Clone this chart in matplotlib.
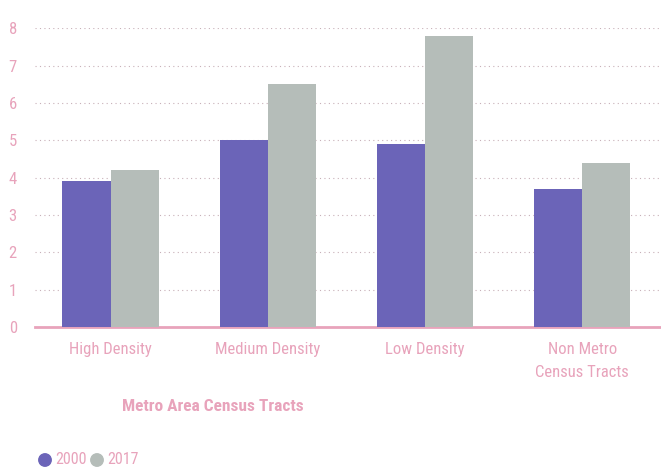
import matplotlib
matplotlib.use('Agg')
import matplotlib.pyplot as plt
from matplotlib import font_manager
import numpy as np

names = {f.name for f in font_manager.fontManager.ttflist}
fam = [n for n in ['DejaVu Sans Condensed', 'Liberation Sans Narrow', 'Roboto Condensed'] if n in names]
plt.rcParams['font.family'] = fam + ['DejaVu Sans']

categories = ['High Density', 'Medium Density', 'Low Density', 'Non Metro\nCensus Tracts']
values_2000 = [3.9, 5.0, 4.9, 3.7]
values_2017 = [4.2, 6.5, 7.8, 4.4]
series_names = ['2000', '2017']
yticks = [0, 1, 2, 3, 4, 5, 6, 7, 8]

pink = '#e8a3bb'
blue = '#6b64b8'
grey = '#b5bdb9'

fig = plt.figure(figsize=(6.61, 4.70), dpi=100)
ax = fig.add_axes([0.053, 0.304, 0.947, 0.636])

x = np.arange(len(categories))
w = 0.306
ax.bar(x - w / 2, values_2000, w, color=blue, zorder=3)
ax.bar(x + w / 2, values_2017, w, color=grey, zorder=3)

ax.set_xlim(-0.48, 3.5)
ax.set_ylim(0, 8)
ax.set_yticks(yticks)
ax.set_yticklabels([str(t) for t in yticks], color=pink, fontsize=12, ha='center')
ax.tick_params(axis='y', length=0, pad=16)
ax.set_xticks(x)
ax.set_xticklabels(categories, color=pink, fontsize=12, linespacing=1.6)
ax.tick_params(axis='x', length=0, pad=11)

ax.grid(axis='y', color='#c8b0b8', linestyle=(0, (1, 3)), linewidth=0.8, zorder=0)
for s in ['top', 'right', 'left']:
    ax.spines[s].set_visible(False)
ax.spines['bottom'].set_color(pink)
ax.spines['bottom'].set_linewidth(2)

fig.text(0.322, 0.136, 'Metro Area Census Tracts', color=pink, fontsize=12.5,
         fontweight='bold', ha='center', va='center')

# legend
lax = fig.add_axes([0, 0, 1, 1], facecolor='none')
lax.set_xlim(0, 661)
lax.set_ylim(470, 0)
lax.axis('off')
lax.scatter([45, 97], [460, 460], s=80, c=[blue, grey])
lax.text(55, 460, series_names[0], color=pink, fontsize=11.5, va='center')
lax.text(107, 460, series_names[1], color=pink, fontsize=11.5, va='center')

fig.savefig('out.png', dpi=100)
